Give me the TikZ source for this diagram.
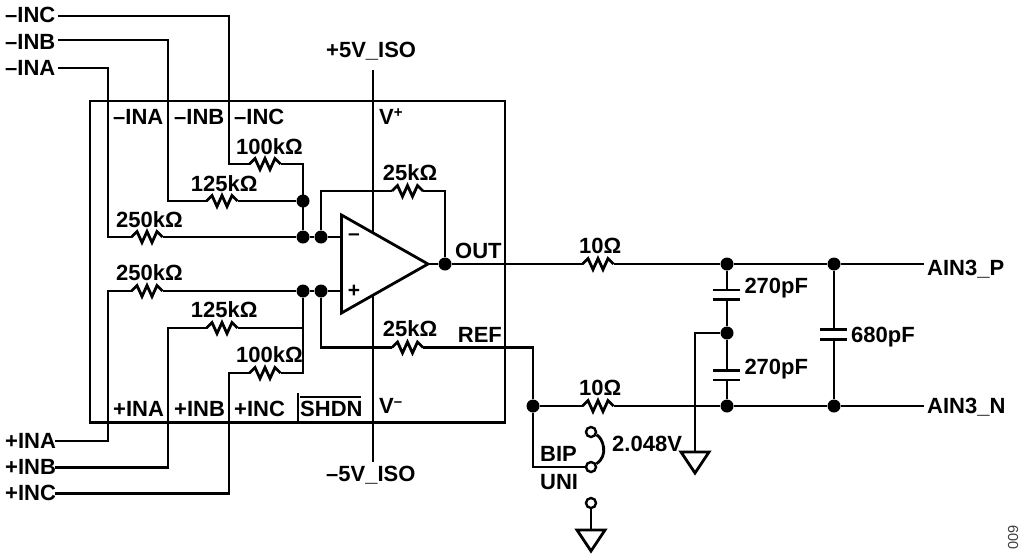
\documentclass[tikz,border=0pt]{standalone}
\usepackage{fontspec}
\setmainfont{Liberation Sans}
\newcommand{\suprm}[1]{\raisebox{6.5pt}{\fontsize{15}{15}\selectfont\bfseries #1}}
\tikzset{
    wire/.style={line width=2.8pt,line join=miter},
    lbl/.style={anchor=base west,inner sep=0pt,font=\fontsize{22}{25}\selectfont\bfseries},
    sign/.style={inner sep=0pt,font=\fontsize{21}{25}\selectfont\bfseries},
    dot/.style={circle,fill=black,inner sep=0pt,minimum size=13pt},
    contact/.style={circle,draw,line width=2.4pt,fill=white,inner sep=0pt,minimum size=10pt},
    res/.pic={
        \coordinate (-l) at (-15.5,0);
        \coordinate (-r) at (15.5,0);
        \draw[wire] (-l) -- ++(5.5,-5.5) -- ++(5,11) -- ++(5,-11) -- ++(5,11) -- ++(5,-11) -- (-r);
    },
    gnd/.pic={
        \coordinate (-t) at (0,0);
        \draw[wire] (-14,0) -- (14,0) -- (0,21) -- cycle;
    }
}
\begin{document}
\begin{tikzpicture}[x=1pt,y=-1pt]
    \useasboundingbox (0,0) rectangle (1024,555);
    \draw[wire] (90,101) rectangle (505,422.5);
    \coordinate (shA) at (298,393);
    \coordinate (shB) at (298,422);
    \draw[wire] (shA) -- (shB);
    \coordinate (shC) at (300,397);
    \coordinate (shD) at (361,397);
    \draw[line width=2pt] (shC) -- (shD);
    % outside labels
    \node[lbl] (mINC) at (5,22.3) {–INC};
    \node[lbl] (mINB) at (5,49) {–INB};
    \node[lbl] (mINA) at (5,75.5) {–INA};
    \node[lbl] (pINA) at (5,448.3) {+INA};
    \node[lbl] (pINB) at (5,474.5) {+INB};
    \node[lbl] (pINC) at (5,500.7) {+INC};
    \node[lbl] (vpos) at (326,57) {+5V\_ISO};
    \node[lbl] (vneg) at (326,481.7) {–5V\_ISO};
    \node[lbl] (ainp) at (927,275.5) {AIN3\_P};
    \node[lbl] (ainn) at (927,413) {AIN3\_N};
    % inside labels
    \node[lbl] (bmINA) at (113,124.3) {–INA};
    \node[lbl] (bmINB) at (174,124.3) {–INB};
    \node[lbl] (bmINC) at (234,124.3) {–INC};
    \node[lbl] (bpINA) at (113,416) {+INA};
    \node[lbl] (bpINB) at (174,416) {+INB};
    \node[lbl] (bpINC) at (234,416) {+INC};
    \node[lbl] (bSHDN) at (300,416) {SHDN};
    \node[lbl] (bVp) at (379,124.3) {V\suprm{+}};
    \node[lbl] (bVm) at (379,413.3) {V\suprm{–}};
    \node[lbl] (bOUT) at (455,258) {OUT};
    \node[lbl] (bREF) at (457.7,342.7) {REF};
    % values
    \node[lbl] (v1) at (236,154.3) {100kΩ};
    \node[lbl] (v2) at (190.7,191) {125kΩ};
    \node[lbl] (v3) at (116,227.3) {250kΩ};
    \node[lbl] (v4) at (116,280.7) {250kΩ};
    \node[lbl] (v5) at (190.7,317.7) {125kΩ};
    \node[lbl] (v6) at (236,362.7) {100kΩ};
    \node[lbl] (v7) at (382.7,180) {25kΩ};
    \node[lbl] (v8) at (382.7,336) {25kΩ};
    \node[lbl] (v9) at (579,253.3) {10Ω};
    \node[lbl] (v10) at (579,395) {10Ω};
    \node[lbl] (c1) at (744.3,293.3) {270pF};
    \node[lbl] (c2) at (744.3,374.3) {270pF};
    \node[lbl] (c3) at (851,342.7) {680pF};
    \node[lbl] (vref) at (612,451.7) {2.048V};
    \node[lbl] (bip) at (540,461.7) {BIP};
    \node[lbl] (uni) at (540,489) {UNI};
    \node[rotate=90,inner sep=0pt,text=black!75,font=\fontsize{14.5}{16}\selectfont] (fig) at (1013,537.5) {009};
    % resistors
    \pic (r1) at (265,164) {res};
    \pic (r2) at (222,201) {res};
    \pic (r3) at (147,237) {res};
    \pic (r4) at (147,291) {res};
    \pic (r5) at (222,328) {res};
    \pic (r6) at (265,373) {res};
    \pic (r7) at (407.5,191) {res};
    \pic (r8) at (407.5,347.5) {res};
    \pic (r9) at (598,264) {res};
    \pic (r10) at (598,406) {res};
    % op amp
    \coordinate (oaA) at (341.5,215);
    \coordinate (oaB) at (341.5,313);
    \coordinate (oaC) at (428,264);
    \draw[wire] (oaA) -- (oaC) -- (oaB) -- cycle;
    \node[sign] (oaM) at (354,237) {–};
    \node[sign] (oaP) at (354,291) {+};
    \coordinate (oaIm) at (341.5,237);
    \coordinate (oaIp) at (341.5,291);
    \coordinate (oaVt) at (373,232.5);
    \coordinate (oaVb) at (373,295.5);
    \coordinate (supT) at (373,70);
    \coordinate (supB) at (373,462);
    \draw[wire] (supT) -- (oaVt);
    \draw[wire] (oaVb) -- (supB);
    % junctions
    \node[dot] (dA) at (303,237) {};
    \node[dot] (dB) at (321,237) {};
    \node[dot] (dC) at (303,201) {};
    \node[dot] (dD) at (303,291) {};
    \node[dot] (dE) at (321,291) {};
    \node[dot] (dF) at (445,264) {};
    \node[dot] (dG) at (727,264) {};
    \node[dot] (dH) at (834,264) {};
    \node[dot] (dI) at (727,333) {};
    \node[dot] (dJ) at (727,406) {};
    \node[dot] (dK) at (834,406) {};
    \node[dot] (dL) at (533,406) {};
    % inverting side
    \coordinate (mCs) at (58,16);
    \coordinate (mBs) at (58,40);
    \coordinate (mAs) at (58,68);
    \draw[wire] (mCs) -| (229,164) -- (r1-l);
    \draw[wire] (mBs) -| (168,201) -- (r2-l);
    \draw[wire] (mAs) -| (108,237) -- (r3-l);
    \draw[wire] (r1-r) -| (dA);
    \draw[wire] (r2-r) -- (dC);
    \draw[wire] (r3-r) -- (dA);
    \draw[wire] (dA) -- (dB);
    \draw[wire] (dB) -- (oaIm);
    \draw[wire] (dB) |- (r7-l);
    \draw[wire] (r7-r) -| (dF);
    % non-inverting side
    \coordinate (pAs) at (55,441);
    \coordinate (pBs) at (55,467.5);
    \coordinate (pCs) at (55,493.5);
    \draw[wire] (pAs) -| (108,291) -- (r4-l);
    \draw[wire] (pBs) -| (168,328) -- (r5-l);
    \draw[wire] (pCs) -| (229,373) -- (r6-l);
    \draw[wire] (r4-r) -- (dD);
    \draw[wire] (r5-r) -- (303,328);
    \draw[wire] (r6-r) -| (dD);
    \draw[wire] (dD) -- (dE);
    \draw[wire] (dE) -- (oaIp);
    \draw[wire] (dE) |- (r8-l);
    % output and reference
    \draw[wire] (oaC) -- (dF);
    \draw[wire] (dF) -- (r9-l);
    \draw[wire] (r9-r) -- (dG);
    \draw[wire] (dG) -- (dH);
    \coordinate (ainpE) at (924,264);
    \coordinate (ainnE) at (924,406);
    \draw[wire] (dH) -- (ainpE);
    \draw[wire] (r8-r) -| (dL);
    \draw[wire] (dL) -- (r10-l);
    \draw[wire] (r10-r) -- (dJ);
    \draw[wire] (dJ) -- (dK);
    \draw[wire] (dK) -- (ainnE);
    % switch
    \node[contact] (swA) at (591,432) {};
    \node[contact] (swB) at (591,467) {};
    \node[contact] (swC) at (591,503) {};
    \draw[wire] (dL) |- (swB);
    \draw[wire] (swA) .. controls (603,438) and (609,456) .. (swB);
    \pic (g1) at (591,530) {gnd};
    \draw[wire] (swC) -- (g1-t);
    % capacitors
    \coordinate (c1a) at (727,290);
    \coordinate (c1b) at (727,299.5);
    \coordinate (c2a) at (727,370.5);
    \coordinate (c2b) at (727,380);
    \coordinate (c3a) at (834,329.5);
    \coordinate (c3b) at (834,339.5);
    \draw[wire] (dG) -- (c1a);
    \draw[wire] (c1b) -- (dI);
    \draw[wire] (dI) -- (c2a);
    \draw[wire] (c2b) -- (dJ);
    \draw[wire] (dH) -- (c3a);
    \draw[wire] (c3b) -- (dK);
    \draw[wire] (713,290) -- (740,290);
    \draw[wire] (713,299.5) -- (740,299.5);
    \draw[wire] (713,370.5) -- (740,370.5);
    \draw[wire] (713,380) -- (740,380);
    \draw[wire] (820,329.5) -- (847,329.5);
    \draw[wire] (820,339.5) -- (847,339.5);
    \pic (g2) at (695,452) {gnd};
    \draw[wire] (dI) -| (g2-t);
\end{tikzpicture}
\end{document}
